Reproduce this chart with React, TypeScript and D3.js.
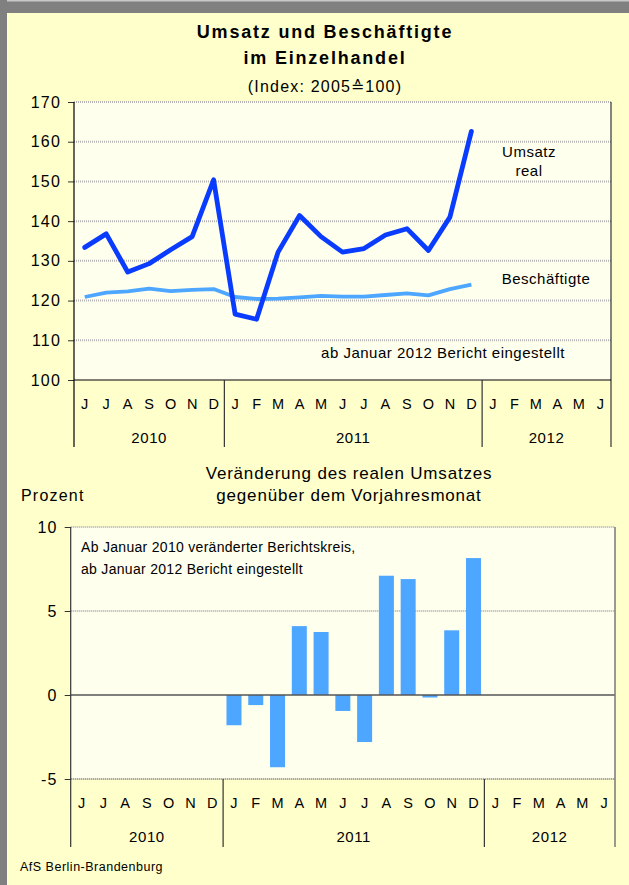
import { useRef, useEffect } from "react";
import * as d3 from "d3";

// Month letters, Jun 2010 .. Jun 2012
const months = ["J", "J", "A", "S", "O", "N", "D", "J", "F", "M", "A", "M", "J", "J", "A", "S", "O", "N", "D", "J", "F", "M", "A", "M", "J"];
const years = [
  { label: "2010", start: 0, end: 7 },
  { label: "2011", start: 7, end: 19 },
  { label: "2012", start: 19, end: 25 },
];

// Index 2005 = 100, Jun 2010 .. Dec 2011
const umsatzReal = [133.4, 136.8, 127.2, 129.3, 132.8, 136.1, 150.4, 116.6, 115.3, 132.2, 141.4, 136.1, 132.2, 133.1, 136.5, 138.1, 132.6, 141.0, 162.6];
const beschaeftigte = [120.9, 122.0, 122.3, 123.0, 122.4, 122.7, 122.9, 120.9, 120.4, 120.5, 120.8, 121.2, 121.0, 121.0, 121.4, 121.8, 121.3, 122.9, 124.0];

// Change vs. previous year month (%), Jan 2011 .. Dec 2011
const changeMonthIdx = [7, 8, 9, 10, 11, 12, 13, 14, 15, 16, 17, 18];
const changeValues = [-1.8, -0.6, -4.3, 4.1, 3.75, -0.95, -2.8, 7.1, 6.9, -0.15, 3.85, 8.15];

const topTicks = [100, 110, 120, 130, 140, 150, 160, 170];
const bottomTicks = [-5, 0, 5, 10];

export default function App() {
  const svgRef = useRef<SVGSVGElement>(null);

  useEffect(() => {
    if (!svgRef.current) return;
    document.body.style.margin = "0";
    const width = 629;
    const height = 885;
    const font = "'Liberation Sans', Arial, sans-serif";

    const svg = d3.select(svgRef.current);
    svg.selectAll("*").remove();
    svg.attr("width", width).attr("height", height).attr("font-family", font);

    // background + grey frame
    svg.append("rect").attr("width", width).attr("height", height).attr("fill", "#FFFFCC");
    svg.append("rect").attr("x", 0).attr("y", 0).attr("width", width).attr("height", 13).attr("fill", "#808080");
    svg.append("rect").attr("x", 0).attr("y", 0).attr("width", width).attr("height", 1.5).attr("fill", "#c8c8c8");
    svg.append("rect").attr("x", 0).attr("y", 0).attr("width", 7).attr("height", height).attr("fill", "#808080");

    const gridStroke = "#b4b4b4";

    // ---------- Top chart ----------
    const t = { left: 74, right: 611, top: 102, bottom: 380, axisBottom: 447 };
    const xTop = d3.scaleBand<number>().domain(d3.range(months.length)).range([t.left, t.right]).padding(0);
    const yTop = d3.scaleLinear().domain([100, 170]).range([t.bottom, t.top]);

    svg.append("rect")
      .attr("x", t.left).attr("y", t.top)
      .attr("width", t.right - t.left).attr("height", t.bottom - t.top)
      .attr("fill", "#FFFFEE");

    // title
    const title = svg.append("g").attr("text-anchor", "middle");
    title.append("text").attr("x", 325).attr("y", 38).attr("font-size", 18).attr("letter-spacing", 1.8).attr("font-weight", "bold").text("Umsatz und Beschäftigte");
    title.append("text").attr("x", 325).attr("y", 64).attr("font-size", 18).attr("letter-spacing", 1.8).attr("font-weight", "bold").text("im Einzelhandel");
    title.append("text").attr("x", 325).attr("y", 92).attr("font-size", 16).attr("letter-spacing", 1.2).text("(Index: 2005≙100)");

    // gridlines
    svg.append("g")
      .selectAll("line")
      .data(topTicks.filter((d) => d !== 100))
      .join("line")
      .attr("x1", t.left).attr("x2", t.right)
      .attr("y1", (d) => yTop(d)).attr("y2", (d) => yTop(d))
      .attr("stroke", gridStroke).attr("stroke-width", 2).attr("stroke-dasharray", "1 1");

    const styleYAxis = (g: d3.Selection<SVGGElement, unknown, null, undefined>) => {
      g.select(".domain").remove();
      g.selectAll(".tick line").attr("stroke", "#333");
      g.selectAll(".tick text").attr("font-size", 16).attr("letter-spacing", 1.2).attr("font-family", font).attr("fill", "#000");
    };

    // y axis
    svg.append("g")
      .attr("transform", `translate(${t.left},0)`)
      .call(d3.axisLeft(yTop).tickValues(topTicks).tickSize(6).tickPadding(7).tickFormat((d) => String(d)))
      .call(styleYAxis);

    // axis lines
    svg.append("line").attr("x1", t.left).attr("x2", t.left).attr("y1", t.top).attr("y2", t.axisBottom).attr("stroke", "#000").attr("stroke-width", 1.2);
    svg.append("line").attr("x1", t.right).attr("x2", t.right).attr("y1", t.top).attr("y2", t.axisBottom).attr("stroke", "#333").attr("stroke-width", 1.2);
    svg.append("line").attr("x1", t.left).attr("x2", t.right).attr("y1", t.bottom).attr("y2", t.bottom).attr("stroke", "#000").attr("stroke-width", 1.2);

    const drawMonthAxis = (
      x: d3.ScaleBand<number>,
      yAxis: number,
      yEnd: number,
      monthY: number,
      yearY: number
    ) => {
      const g = svg.append("g").attr("fill", "#000").attr("text-anchor", "middle");
      g.selectAll("text.m")
        .data(months)
        .join("text")
        .attr("class", "m")
        .attr("font-size", 14.5)
        .attr("x", (_, i) => (x(i) as number) + x.bandwidth() / 2)
        .attr("y", monthY)
        .text((d) => d);
      g.selectAll("text.y")
        .data(years)
        .join("text")
        .attr("class", "y")
        .attr("font-size", 15)
        .attr("letter-spacing", 0.6)
        .attr("x", (d) => ((x(d.start) as number) + (x(d.end - 1) as number) + x.bandwidth()) / 2)
        .attr("y", yearY)
        .text((d) => d.label);
      g.selectAll("line.sep")
        .data(years.slice(1))
        .join("line")
        .attr("class", "sep")
        .attr("x1", (d) => x(d.start) as number)
        .attr("x2", (d) => x(d.start) as number)
        .attr("y1", yAxis).attr("y2", yEnd)
        .attr("stroke", "#333").attr("stroke-width", 1.2);
    };
    drawMonthAxis(xTop, t.bottom, t.axisBottom, 409, 443);

    const cx = (i: number) => (xTop(i) as number) + xTop.bandwidth() / 2;

    const line = d3.line<number>().x((_, i) => cx(i)).y((d) => yTop(d));
    svg.append("path").datum(beschaeftigte).attr("fill", "none").attr("stroke", "#4DA6FF").attr("stroke-width", 3.8).attr("stroke-linejoin", "round").attr("d", line);
    svg.append("path").datum(umsatzReal).attr("fill", "none").attr("stroke", "#0A3CFF").attr("stroke-width", 4.8).attr("stroke-linejoin", "round").attr("stroke-linecap", "round").attr("d", line);

    const lbl = svg.append("g").attr("font-size", 15).attr("letter-spacing", 0.5).attr("fill", "#000").attr("text-anchor", "middle");
    lbl.append("text").attr("x", 529).attr("y", 157).text("Umsatz");
    lbl.append("text").attr("x", 529).attr("y", 176).text("real");
    lbl.append("text").attr("x", 546).attr("y", 284).text("Beschäftigte");
    lbl.append("text").attr("x", 443).attr("y", 358).text("ab Januar 2012 Bericht eingestellt");

    // ---------- Bottom chart ----------
    const b = { left: 70.7, right: 615, top: 527, bottom: 779, axisBottom: 847 };
    const xBot = d3.scaleBand<number>().domain(d3.range(months.length)).range([b.left, b.right]).padding(0);
    const yBot = d3.scaleLinear().domain([-5, 10]).range([b.bottom, b.top]);

    svg.append("rect")
      .attr("x", b.left).attr("y", b.top)
      .attr("width", b.right - b.left).attr("height", b.bottom - b.top)
      .attr("fill", "#FFFFEE");

    const t2 = svg.append("g").attr("text-anchor", "middle").attr("font-size", 17).attr("letter-spacing", 0.8).attr("fill", "#000");
    t2.append("text").attr("x", 349).attr("y", 479).text("Veränderung des realen Umsatzes");
    t2.append("text").attr("x", 349).attr("y", 501).text("gegenüber dem Vorjahresmonat");
    svg.append("text").attr("x", 21).attr("y", 501).attr("font-size", 16).attr("letter-spacing", 1.2).text("Prozent");

    svg.append("g")
      .selectAll("line")
      .data([10, 5])
      .join("line")
      .attr("x1", b.left).attr("x2", b.right)
      .attr("y1", (d) => yBot(d)).attr("y2", (d) => yBot(d))
      .attr("stroke", gridStroke).attr("stroke-width", 2).attr("stroke-dasharray", "1 1");
    svg.append("line")
      .attr("x1", b.left).attr("x2", b.right)
      .attr("y1", yBot(-5)).attr("y2", yBot(-5))
      .attr("stroke", "#888").attr("stroke-width", 2).attr("stroke-dasharray", "1 1");

    svg.append("g")
      .attr("transform", `translate(${b.left},0)`)
      .call(d3.axisLeft(yBot).tickValues(bottomTicks).tickSize(6).tickPadding(7).tickFormat((d) => String(d)))
      .call(styleYAxis);

    const barW = 15;
    svg.append("g")
      .selectAll("rect")
      .data(changeValues)
      .join("rect")
      .attr("x", (_, i) => (xBot(changeMonthIdx[i]) as number) + xBot.bandwidth() / 2 - barW / 2)
      .attr("y", (d) => yBot(Math.max(0, d)))
      .attr("width", barW)
      .attr("height", (d) => Math.abs(yBot(d) - yBot(0)))
      .attr("fill", "#4DA6FF");

    svg.append("line").attr("x1", b.left).attr("x2", b.right).attr("y1", yBot(0)).attr("y2", yBot(0)).attr("stroke", "#555").attr("stroke-width", 1.5);
    svg.append("line").attr("x1", b.left).attr("x2", b.left).attr("y1", b.top).attr("y2", b.axisBottom).attr("stroke", "#333").attr("stroke-width", 1.2);
    svg.append("line").attr("x1", b.right).attr("x2", b.right).attr("y1", b.top).attr("y2", b.axisBottom).attr("stroke", "#777").attr("stroke-width", 1.5);

    drawMonthAxis(xBot, b.bottom, b.axisBottom, 808, 842);

    const note = svg.append("g").attr("font-size", 14).attr("letter-spacing", 0.3).attr("fill", "#000");
    note.append("text").attr("x", 81).attr("y", 552).text("Ab Januar 2010 veränderter Berichtskreis,");
    note.append("text").attr("x", 81).attr("y", 574).text("ab Januar 2012 Bericht eingestellt");

    svg.append("text").attr("x", 20).attr("y", 871).attr("font-size", 12.5).attr("letter-spacing", 0.5).attr("fill", "#000").text("AfS Berlin-Brandenburg");
  }, []);

  return <svg ref={svgRef} style={{ display: "block" }} />;
}
